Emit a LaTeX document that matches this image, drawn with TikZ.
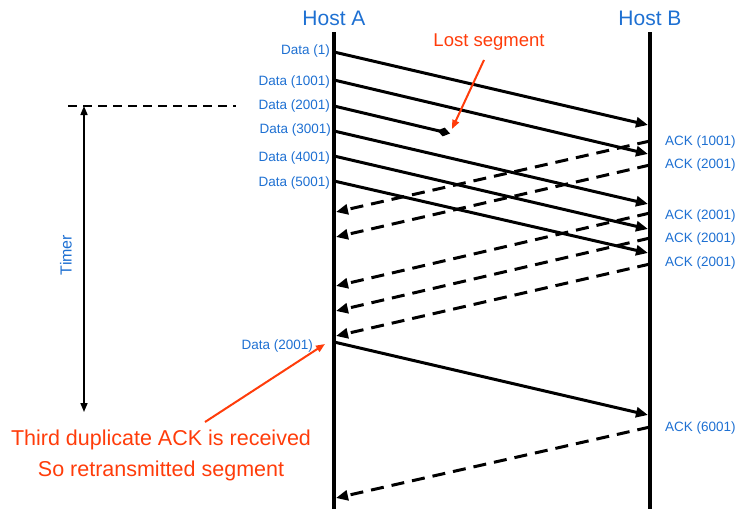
\documentclass[tikz,border=0pt]{standalone}
\usepackage{fontspec}
\setmainfont{Liberation Sans}
\usetikzlibrary{arrows.meta}
\definecolor{hostblue}{RGB}{30,112,210}
\definecolor{notered}{RGB}{255,60,10}
\tikzset{
  host/.style={line width=4.4pt},
  hosttitle/.style={text=hostblue,font=\fontsize{21}{24}\selectfont,inner sep=0pt},
  datalbl/.style={text=hostblue,font=\fontsize{13.5}{15}\selectfont,inner sep=0pt,anchor=east},
  acklbl/.style={text=hostblue,font=\fontsize{13.5}{15}\selectfont,inner sep=0pt,anchor=west},
  seg/.style={line width=3pt,-{Triangle[length=12pt,width=10pt]}},
  ackline/.style={line width=3pt,dash pattern=on 13pt off 8pt,-{Triangle[length=12pt,width=10pt]}},
  lostline/.style={line width=3pt,-{Diamond[length=13pt,width=9pt]}},
  notetext/.style={text=notered,inner sep=0pt},
  notearrow/.style={draw=notered,line width=2pt,-{Triangle[length=9pt,width=7pt]}},
}
\begin{document}
\begin{tikzpicture}[x=1pt,y=-1pt]
\useasboundingbox (0,0) rectangle (741,509);
% hosts
\coordinate (Atop) at (334,32);
\coordinate (Abot) at (334,509);
\coordinate (Btop) at (650,32);
\coordinate (Bbot) at (650,509);
\draw[host] (Atop) -- (Abot);
\draw[host] (Btop) -- (Bbot);
\node[hosttitle] (hA) at (334,18) {Host A};
\node[hosttitle] (hB) at (650,18) {Host B};
% data segments
\coordinate (d1s) at (334,52);  \coordinate (d1e) at (648,125);
\coordinate (d2s) at (334,80);  \coordinate (d2e) at (648,154);
\coordinate (d3s) at (334,106); \coordinate (lost) at (450,133.5);
\coordinate (d4s) at (334,131); \coordinate (d4e) at (648,204);
\coordinate (d5s) at (334,156); \coordinate (d5e) at (648,229);
\coordinate (d6s) at (334,181); \coordinate (d6e) at (648,253);
\coordinate (rs) at (334,342);  \coordinate (re) at (648,415);
\draw[seg] (d1s) -- (d1e);
\draw[seg] (d2s) -- (d2e);
\draw[lostline] (d3s) -- (lost);
\draw[seg] (d4s) -- (d4e);
\draw[seg] (d5s) -- (d5e);
\draw[seg] (d6s) -- (d6e);
\draw[seg] (rs) -- (re);
% acks
\coordinate (a1s) at (650,141); \coordinate (a1e) at (336,212);
\coordinate (a2s) at (650,165); \coordinate (a2e) at (336,237);
\coordinate (a3s) at (650,213); \coordinate (a3e) at (336,286);
\coordinate (a4s) at (650,238); \coordinate (a4e) at (336,311);
\coordinate (a5s) at (650,264); \coordinate (a5e) at (336,336);
\coordinate (a6s) at (650,427); \coordinate (a6e) at (336,498);
\draw[ackline] (a1s) -- (a1e);
\draw[ackline] (a2s) -- (a2e);
\draw[ackline] (a3s) -- (a3e);
\draw[ackline] (a4s) -- (a4e);
\draw[ackline] (a5s) -- (a5e);
\draw[ackline] (a6s) -- (a6e);
% data labels
\node[datalbl] (ld1) at (330,51) {Data (1)};
\node[datalbl] (ld2) at (330,82) {Data (1001)};
\node[datalbl] (ld3) at (330,106) {Data (2001)};
\node[datalbl] (ld4) at (331,130) {Data (3001)};
\node[datalbl] (ld5) at (330,158) {Data (4001)};
\node[datalbl] (ld6) at (330,183) {Data (5001)};
\node[datalbl] (ld7) at (313,346) {Data (2001)};
% ack labels
\node[acklbl] (la1) at (665,142) {ACK (1001)};
\node[acklbl] (la2) at (665,165) {ACK (2001)};
\node[acklbl] (la3) at (665,216) {ACK (2001)};
\node[acklbl] (la4) at (665,239) {ACK (2001)};
\node[acklbl] (la5) at (665,263) {ACK (2001)};
\node[acklbl] (la6) at (665,428) {ACK (6001)};
% lost segment note
\node[notetext,font=\fontsize{18.5}{21}\selectfont] (lostlbl) at (489,42) {Lost segment};
\coordinate (loststart) at (484,60);
\coordinate (lostarr) at (452,129);
\draw[notearrow] (loststart) -- (lostarr);
% timer
\coordinate (t0) at (68,106);
\coordinate (t1) at (236,106);
\coordinate (tt) at (84,106);
\coordinate (tb) at (84,412);
\draw[line width=1.8pt,dash pattern=on 9pt off 6pt] (t0) -- (t1);
\draw[line width=1.6pt,{Triangle[length=9pt,width=7pt]}-{Triangle[length=9pt,width=7pt]}] (tt) -- (tb);
\node[text=hostblue,rotate=90,inner sep=0pt,font=\fontsize{16}{18}\selectfont] (timer) at (66,255) {Timer};
% third duplicate note
\node[notetext,font=\fontsize{21.5}{24}\selectfont] (dup1) at (161,440) {Third duplicate ACK is received};
\node[notetext,font=\fontsize{21.5}{24}\selectfont] (dup2) at (161,471) {So retransmitted segment};
\coordinate (duparr) at (325,344);
\coordinate (dupstart) at (205,422);
\draw[notearrow] (dupstart) -- (duparr);
\end{tikzpicture}
\end{document}
